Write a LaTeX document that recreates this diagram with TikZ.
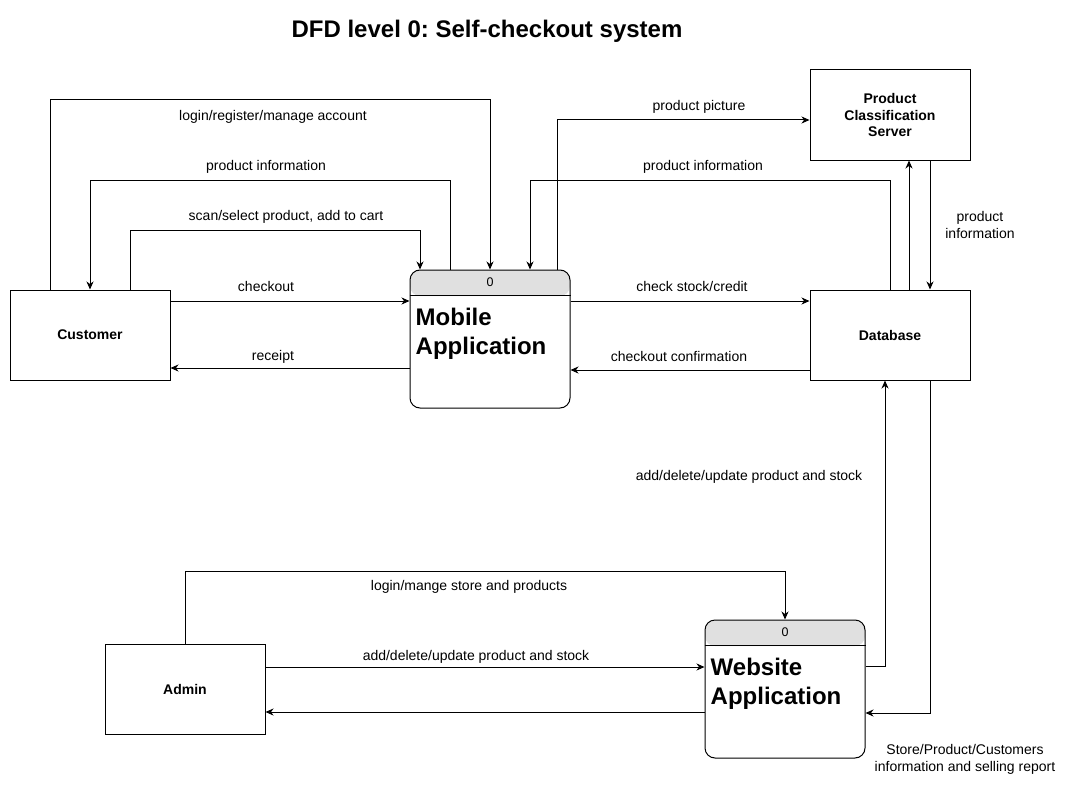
\documentclass[tikz,border=0pt]{standalone}
\usepackage{fontspec}
\setmainfont{Liberation Sans}
\usetikzlibrary{arrows.meta,calc}
\definecolor{hdr}{HTML}{E0E0E0}
\frenchspacing
\begin{document}
\begin{tikzpicture}[x=1pt,y=-1pt,
  ent/.style={draw, line width=1pt, minimum width=160pt, minimum height=90pt,
    font=\fontsize{14}{16.8}\selectfont\bfseries, align=center, inner sep=0pt},
  proc/.style={draw, line width=1pt, rounded corners=10pt, minimum width=160pt,
    minimum height=138pt, inner sep=0pt,
    path picture={\fill[hdr] (path picture bounding box.north west) rectangle
      ([yshift=-26pt]path picture bounding box.north east);}},
  ptitle/.style={anchor=north west, font=\fontsize{24}{29}\selectfont\bfseries,
    align=left, inner sep=0pt},
  pnum/.style={font=\fontsize{12.5}{14}\selectfont, inner sep=0pt},
  lbl/.style={font=\fontsize{14}{16.8}\selectfont, align=center, inner sep=0pt, yshift=-1.5pt},
  arr/.style={line width=1pt, -{Stealth[length=8pt,width=7pt,inset=2.5pt]}}]
\useasboundingbox (0,0) rectangle (1076,797);

\node[font=\fontsize{24}{28}\selectfont\bfseries] (title) at (487,31) {DFD level 0: Self-checkout system};

% entities
\node[ent] (cust) at (90,335) {Customer};
\node[ent] (db) at (890,335) {Database};
\node[ent] (pcs) at (890,115) {Product\\Classification\\Server};
\node[ent] (admin) at (185,689) {Admin};

% processes
\node[proc] (mob) at (490,339) {};
\draw[line width=1pt] ([yshift=-26pt]mob.north west) -- ([yshift=-26pt]mob.north east);
\node[pnum] (mobn) at ([yshift=-13pt]mob.north) {0};
\node[ptitle] (mobt) at ([xshift=6pt,yshift=-38pt]mob.north west) {Mobile\\Application};

\node[proc] (web) at (785,689) {};
\draw[line width=1pt] ([yshift=-26pt]web.north west) -- ([yshift=-26pt]web.north east);
\node[pnum] (webn) at ([yshift=-13pt]web.north) {0};
\node[ptitle] (webt) at ([xshift=6pt,yshift=-38pt]web.north west) {Website\\Application};

% customer <-> mobile
\draw[arr] (cust.north -| 50,0) |- (490,100) -- (mob.north);
\draw[arr] (mob.north -| 450,0) |- (90,180) -- (cust.north);
\draw[arr] (cust.north -| 130,0) |- (420,230) -- (mob.north -| 420,0);
\draw[arr] (cust.east |- 0,301) -- (mob.west |- 0,301);
\draw[arr] (mob.west |- 0,368) -- (cust.east |- 0,368);

% mobile <-> pcs / db
\draw[arr] (mob.north -| 557,0) |- (pcs.west |- 0,120);
\draw[arr] (db.north) |- (530,180) -- (mob.north -| 530,0);
\draw[arr] (db.north -| 909,0) -- (pcs.south -| 909,0);
\draw[arr] (pcs.south -| 930,0) -- (db.north -| 930,0);
\draw[arr] (mob.east |- 0,301) -- (db.west |- 0,301);
\draw[arr] (db.west |- 0,370) -- (mob.east |- 0,370);

% website <-> db
\draw[arr] (web.east |- 0,666) -| (db.south -| 885,0);
\draw[arr] (db.south -| 930,0) |- (web.east |- 0,713);

% admin <-> website
\draw[arr] (admin.north) |- (785,571) -- (web.north);
\draw[arr] (admin.east |- 0,667) -- (web.west |- 0,667);
\draw[arr] (web.west |- 0,712) -- (admin.east |- 0,712);

% labels
\node[lbl] (l1) at (273,115) {login/register/manage account};
\node[lbl] (l2) at (266,165) {product information};
\node[lbl] (l3) at (286,215) {scan/select product, add to cart};
\node[lbl] (l4) at (266,285) {checkout};
\node[lbl] (l5) at (273,355) {receipt};
\node[lbl] (l6) at (699,105) {product picture};
\node[lbl] (l7) at (703,165) {product information};
\node[lbl] (l8) at (980,223.5) {product\\information};
\node[lbl] (l9) at (692,285) {check stock/credit};
\node[lbl] (l10) at (679,355) {checkout confirmation};
\node[lbl] (l11) at (749,475) {add/delete/update product and stock};
\node[lbl] (l12) at (469,585) {login/mange store and products};
\node[lbl] (l13) at (476,655) {add/delete/update product and stock};
\node[lbl] (l14) at (965,757.5) {Store/Product/Customers\\information and selling report};
\end{tikzpicture}
\end{document}
